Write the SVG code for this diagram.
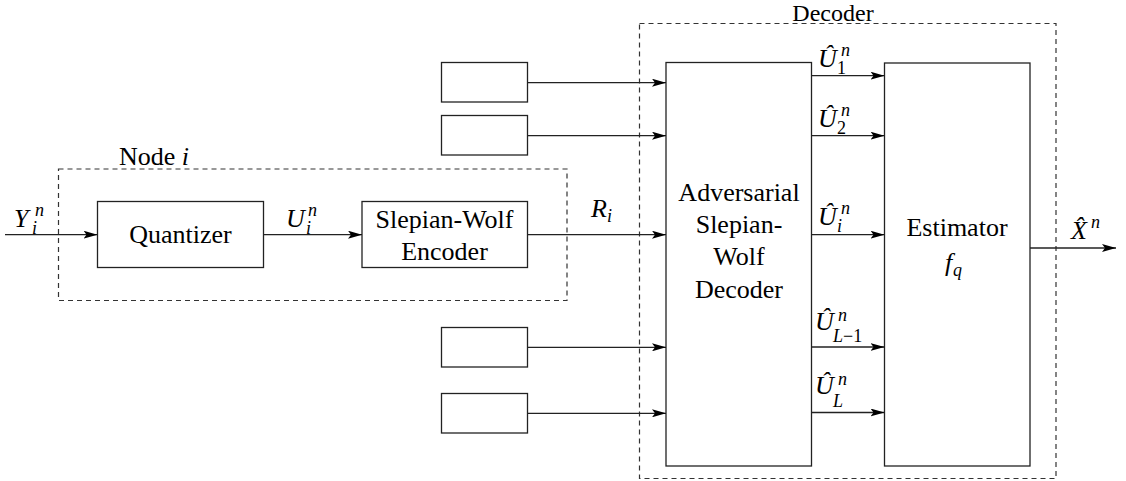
<svg xmlns="http://www.w3.org/2000/svg" width="1126" height="481" viewBox="0 0 1126 481">
<defs>
<marker id="ah" markerWidth="14" markerHeight="8" refX="14" refY="4" orient="auto" markerUnits="userSpaceOnUse">
<path d="M0,0 L14,4 L0,8 L3,4 Z" fill="#000"/>
</marker>
</defs>
<style>
.box{fill:#fff;stroke:#222;stroke-width:1.3}
.dash{fill:none;stroke:#333;stroke-width:1.2;stroke-dasharray:5,4}
.ln{stroke:#222;stroke-width:1.3;fill:none;marker-end:url(#ah)}
text{font-family:Liberation Serif,Tinos,DejaVu Serif,Noto Serif,FreeSerif,Times,serif;font-size:26px;fill:#000}
.m{font-style:italic}
.c{text-anchor:middle}
.s{font-size:18px}
.r{font-style:normal}
</style>
<rect width="1126" height="481" fill="#fff"/>
<g id="node-i-group">
<rect class="dash" x="58.5" y="169" width="508.5" height="131.5"/>
<text x="119" y="165">Node <tspan class="m">i</tspan></text>
</g>
<g id="decoder-group">
<rect class="dash" x="639.5" y="23.5" width="416.5" height="455"/>
<text class="c" x="833" y="21" style="font-size:24px">Decoder</text>
</g>
<g id="quantizer">
<rect class="box" x="97.5" y="201.5" width="166" height="66"/>
<text class="c" x="180.5" y="243">Quantizer</text>
</g>
<g id="sw-encoder">
<rect class="box" x="362" y="201.5" width="165.5" height="66"/>
<text class="c" x="444.5" y="228">Slepian-Wolf</text>
<text class="c" x="444.5" y="260">Encoder</text>
</g>
<g id="src1"><rect class="box" x="441.5" y="62.5" width="86" height="39.5"/></g>
<g id="src2"><rect class="box" x="441.5" y="115.5" width="86" height="39.5"/></g>
<g id="src3"><rect class="box" x="441.5" y="327.5" width="86" height="39.5"/></g>
<g id="src4"><rect class="box" x="441.5" y="393.5" width="86" height="39.5"/></g>
<g id="sw-decoder">
<rect class="box" x="666" y="62.5" width="145.5" height="403.5"/>
<text class="c" x="739" y="201">Adversarial</text>
<text class="c" x="739" y="233">Slepian-</text>
<text class="c" x="739" y="265">Wolf</text>
<text class="c" x="739" y="298">Decoder</text>
</g>
<g id="estimator">
<rect class="box" x="884.5" y="63" width="145.5" height="403"/>
<text class="c" x="957" y="236">Estimator</text>
<text class="m" x="945" y="271">f</text>
<text class="m s" x="953" y="276">q</text>
</g>
<g id="connectors">
<line class="ln" x1="5" y1="234.7" x2="97.5" y2="234.7"/>
<line class="ln" x1="263.5" y1="234.7" x2="362" y2="234.7"/>
<line class="ln" x1="527.5" y1="234.7" x2="666" y2="234.7"/>
<line class="ln" x1="527.5" y1="82.7" x2="666" y2="82.7"/>
<line class="ln" x1="527.5" y1="135.7" x2="666" y2="135.7"/>
<line class="ln" x1="527.5" y1="347.3" x2="666" y2="347.3"/>
<line class="ln" x1="527.5" y1="413.3" x2="666" y2="413.3"/>
<line class="ln" x1="811.5" y1="75.7" x2="884.5" y2="75.7"/>
<line class="ln" x1="811.5" y1="135.7" x2="884.5" y2="135.7"/>
<line class="ln" x1="811.5" y1="234.7" x2="884.5" y2="234.7"/>
<line class="ln" x1="811.5" y1="347" x2="884.5" y2="347"/>
<line class="ln" x1="811.5" y1="412.5" x2="884.5" y2="412.5"/>
<line class="ln" x1="1030" y1="248" x2="1116" y2="248"/>
</g>
<g id="labels">
<text class="m" x="14" y="227">Y</text><text class="m s" x="35" y="216">n</text><text class="m s" x="32" y="234">i</text>
<text class="m" x="286" y="227">U</text><text class="m s" x="308" y="216">n</text><text class="m s" x="306" y="234">i</text>
<text class="m" x="591" y="217">R</text><text class="m s" x="607" y="222">i</text>
<text class="m" x="818" y="67">Û</text><text class="m s" x="841" y="56">n</text><text class="s" x="837" y="74">1</text>
<text class="m" x="818" y="127">Û</text><text class="m s" x="841" y="116">n</text><text class="s" x="837" y="134">2</text>
<text class="m" x="818" y="225">Û</text><text class="m s" x="841" y="214">n</text><text class="m s" x="837" y="232">i</text>
<text class="m" x="815" y="330">Û</text><text class="m s" x="838" y="321">n</text><text class="m s" x="833" y="342">L<tspan class="r">−1</tspan></text>
<text class="m" x="815" y="394">Û</text><text class="m s" x="838" y="385">n</text><text class="m s" x="833" y="407">L</text>
<text class="m" x="1071" y="239">X̂</text><text class="m s" x="1091" y="228">n</text>
</g>
</svg>
